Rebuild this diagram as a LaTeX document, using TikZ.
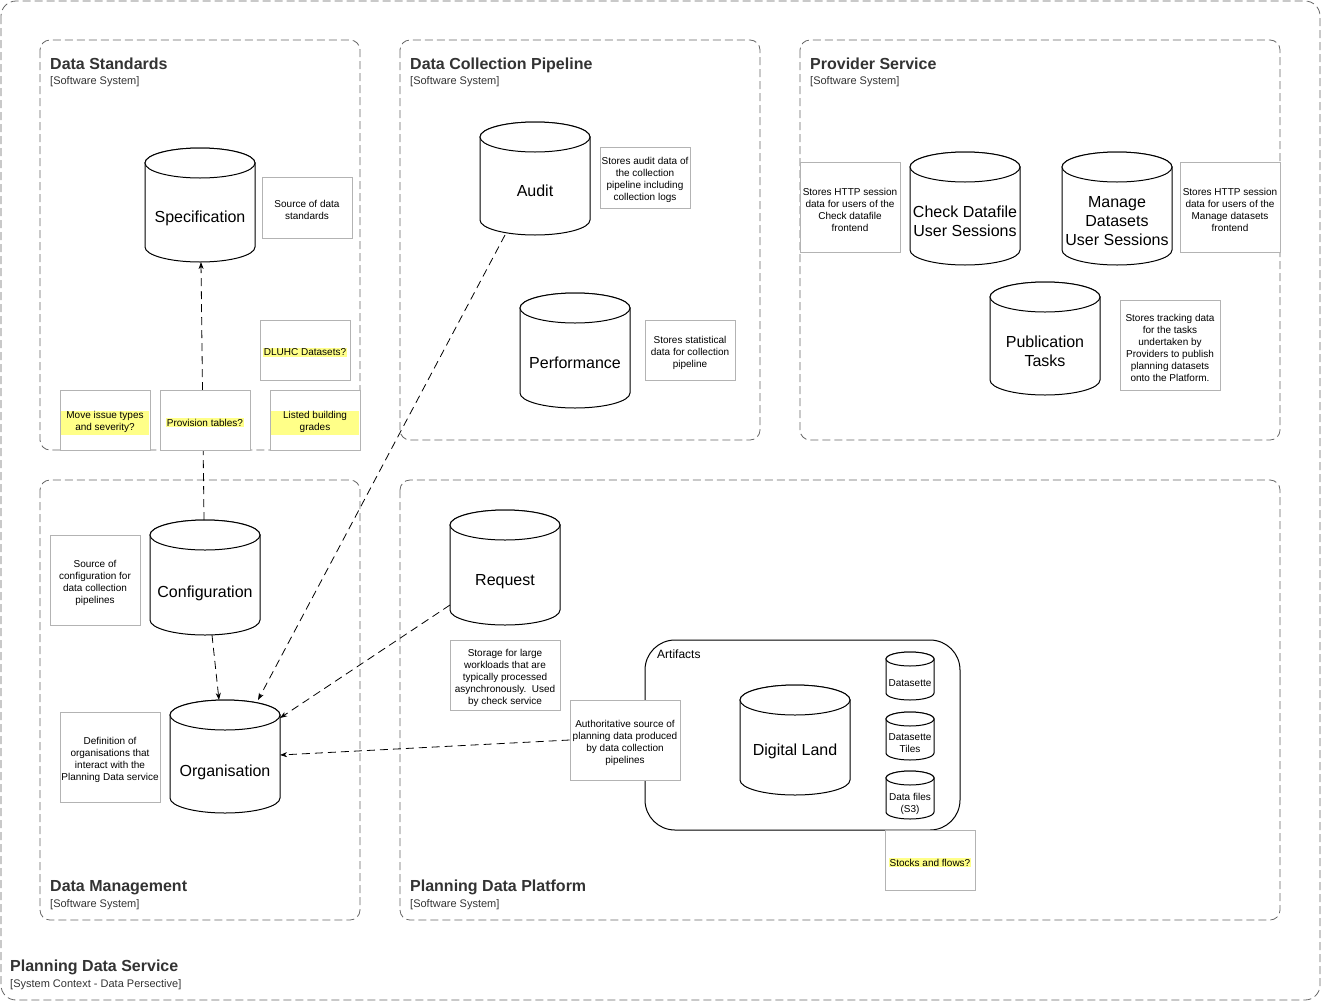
\documentclass[tikz,border=0pt]{standalone}
\usepackage{fontspec}
\setmainfont{Liberation Sans}
\usetikzlibrary{arrows.meta}

\definecolor{frame}{HTML}{666666}
\definecolor{notegray}{HTML}{B3B3B3}
\definecolor{titlegray}{HTML}{333333}
\definecolor{hilite}{HTML}{FFFF88}

\tikzset{
  system/.style={draw=frame, line width=0.8pt, dash pattern=on 8pt off 4pt, rounded corners=10pt},
  systitle/.style={anchor=base west, inner sep=0pt, text=titlegray, font=\bfseries\fontsize{16}{19}\selectfont},
  syssub/.style={anchor=base west, inner sep=0pt, text=titlegray, font=\fontsize{11}{13}\selectfont},
  cylbody/.style={draw=black, fill=white, line width=1pt},
  biglabel/.style={align=center, inner sep=0pt, font=\fontsize{16}{19}\selectfont},
  smalllabel/.style={align=center, inner sep=0pt, font=\fontsize{10}{12}\selectfont},
  notebg/.style={draw=notegray, fill=white, line width=0.9pt, inner sep=0pt},
  notetext/.style={align=center, inner sep=0pt, font=\fontsize{10}{12}\selectfont},
  flow/.style={draw=black, line width=0.8pt, dash pattern=on 8pt off 5pt, -{Stealth[length=7pt,width=5pt,inset=2pt]}},
  group/.style={draw=black, line width=1pt, rounded corners=30pt},
}

% A data store drawn as a cylinder: #1 name, #2 centre x, #3 top, #4 bottom,
% #5 half width, #6 rim depth, #7 label style, #8 label position, #9 label text
\newcommand\datastore[9]{%
  \path[cylbody] ({#2-#5},{#3+#6}) -- ({#2-#5},{#4-#6})
     arc[start angle=180,end angle=360,x radius=#5pt,y radius=#6pt]
     -- ({#2+#5},{#3+#6})
     arc[start angle=0,end angle=180,x radius=#5pt,y radius=#6pt] -- cycle;
  \draw[cylbody] (#2,{#3+#6}) ellipse[x radius=#5pt,y radius=#6pt];
  \node[inner sep=0pt, outer sep=0pt, minimum width={2*#5*1pt}, minimum height={(#4-#3)*1pt}]
     (#1) at (#2,{(#3+#4)/2}) {};
  \node[#7] (#1-label) at #8 {#9};
}

% A description note: #1 name, #2 left, #3 top, #4 right, #5 bottom, #6 text
\newcommand\notebox[6]{%
  \node[notebg, minimum width={(#4-#2)*1pt}, minimum height={(#5-#3)*1pt}]
     (#1) at ({(#2+#4)/2},{(#3+#5)/2}) {};
  \node[notetext] (#1-text) at ({(#2+#4)/2},{(#3+#5)/2+2.5}) {#6};
}
\newcommand\hl[1]{{\setlength{\fboxsep}{0.6pt}\colorbox{hilite}{#1}}}
\newcommand\hlblock[1]{{\setlength{\fboxsep}{0pt}\colorbox{hilite}{\parbox{88pt}{\centering #1}}}}

\begin{document}
\begin{tikzpicture}[x=1pt,y=-1pt]
\useasboundingbox (0,0) rectangle (1322,1002);

% ---------- system boundaries ----------
\draw[system, rounded corners=15pt] (1,1) rectangle (1320,1000);
\draw[system] (40,40) rectangle (360,450);
\draw[system] (400,40) rectangle (760,440);
\draw[system] (800,40) rectangle (1280,440);
\draw[system] (40,480) rectangle (360,920);
\draw[system] (400,480) rectangle (1280,920);

\node[systitle] (t-std) at (50,69) {Data Standards};
\node[syssub] (s-std) at (50,84) {[Software System]};
\node[systitle] (t-dcp) at (410,69) {Data Collection Pipeline};
\node[syssub] (s-dcp) at (410,84) {[Software System]};
\node[systitle] (t-prov) at (810,69) {Provider Service};
\node[syssub] (s-prov) at (810,84) {[Software System]};
\node[systitle] (t-dm) at (50,891) {Data Management};
\node[syssub] (s-dm) at (50,907) {[Software System]};
\node[systitle] (t-pdp) at (410,891) {Planning Data Platform};
\node[syssub] (s-pdp) at (410,907) {[Software System]};
\node[systitle] (t-pds) at (10,971) {Planning Data Service};
\node[syssub] (s-pds) at (10,987) {[System Context - Data Persective]};

% ---------- artifacts group ----------
\draw[group] (645,640) rectangle (960,830);
\node[anchor=base west, inner sep=0pt, font=\fontsize{12}{14}\selectfont] (t-art) at (657,658) {Artifacts};

% ---------- data stores ----------
\datastore{spec}{200}{148}{262}{55}{15}{biglabel,anchor=base}{(200,222)}{Specification}
\datastore{audit}{535}{122}{235}{55}{15}{biglabel,anchor=base}{(535,196.5)}{Audit}
\datastore{perf}{575}{293}{408}{55}{15}{biglabel,anchor=base}{(575,368)}{Performance}
\datastore{check}{965}{152}{265}{55}{15}{biglabel}{(965,221.5)}{Check Datafile\\User Sessions}
\datastore{manage}{1117}{152}{265}{55}{15}{biglabel}{(1117,221)}{Manage\\Datasets\\User Sessions}
\datastore{pub}{1045}{282}{395}{55}{15}{biglabel}{(1045,351.5)}{Publication\\Tasks}
\datastore{cfg}{205}{520}{635}{55}{15}{biglabel,anchor=base}{(205,597.5)}{Configuration}
\datastore{org}{225}{700}{813}{55}{15}{biglabel,anchor=base}{(225,776)}{Organisation}
\datastore{req}{505}{510}{625}{55}{15}{biglabel,anchor=base}{(505,585.5)}{Request}
\datastore{dl}{795}{685}{795}{55}{15}{biglabel,anchor=base}{(795,755.5)}{Digital Land}
\datastore{dsette}{910}{652}{700}{24}{7}{smalllabel,anchor=base}{(910,686.5)}{Datasette}
\datastore{tiles}{910}{712}{760}{24}{7}{smalllabel}{(910,743)}{Datasette\\Tiles}
\datastore{files}{910}{771}{819}{24}{7}{smalllabel}{(910,803.5)}{Data files\\(S3)}

% ---------- notes ----------
\notebox{n-spec}{262}{177}{352}{238}{Source of data\\standards}
\notebox{n-audit}{600}{147}{690}{208}{Stores audit data of\\the collection\\pipeline including\\collection logs}
\notebox{n-perf}{645}{320}{735}{380}{Stores statistical\\data for collection\\pipeline}
\notebox{n-check}{800}{162}{900}{252}{Stores HTTP session\\data for users of the\\Check datafile\\frontend}
\notebox{n-manage}{1180}{162}{1280}{252}{Stores HTTP session\\data for users of the\\Manage datasets\\frontend}
\notebox{n-pub}{1120}{300}{1220}{390}{Stores tracking data\\for the tasks\\undertaken by\\Providers to publish\\planning datasets\\onto the Platform.}
\notebox{n-dluhc}{260}{320}{350}{380}{\hl{DLUHC Datasets?}}
\notebox{n-cfg}{50}{535}{140}{625}{Source of\\configuration for\\data collection\\pipelines}
\notebox{n-org}{60}{712}{160}{802}{Definition of\\organisations that\\interact with the\\Planning Data service}
\notebox{n-req}{450}{640}{560}{710}{Storage for large\\workloads that are\\typically processed\\asynchronously.\ \ Used\\by check service}
\notebox{n-auth}{570}{700}{680}{780}{Authoritative source of\\planning data produced\\by data collection\\pipelines}
\notebox{n-stock}{885}{830}{975}{890}{\hl{Stocks and flows?}}

% ---------- relationships ----------
\draw[flow] ([xshift=-1pt]cfg.north) -- ([xshift=1pt]spec.south);
\draw[flow] ([xshift=7pt]cfg.south) -- ([xshift=-6pt]org.north);
\draw[flow] ([xshift=-30pt]audit.south) -- ([xshift=33pt]org.north);
\draw[flow] ([yshift=-37.5pt]req.west) -- ([yshift=38.5pt]org.east);
\draw[flow] (n-auth.west) -- ([yshift=1.5pt]org.east);

% ---------- open questions along the foot of Data Standards ----------
\notebox{n-issue}{60}{390}{150}{450}{\hlblock{\strut Move issue types\\\strut and severity?}}
\notebox{n-prov}{160}{390}{250}{450}{\hl{Provision tables?}}
\notebox{n-listed}{270}{390}{360}{450}{\hlblock{\strut Listed building\\\strut grades}}

\end{tikzpicture}
\end{document}
